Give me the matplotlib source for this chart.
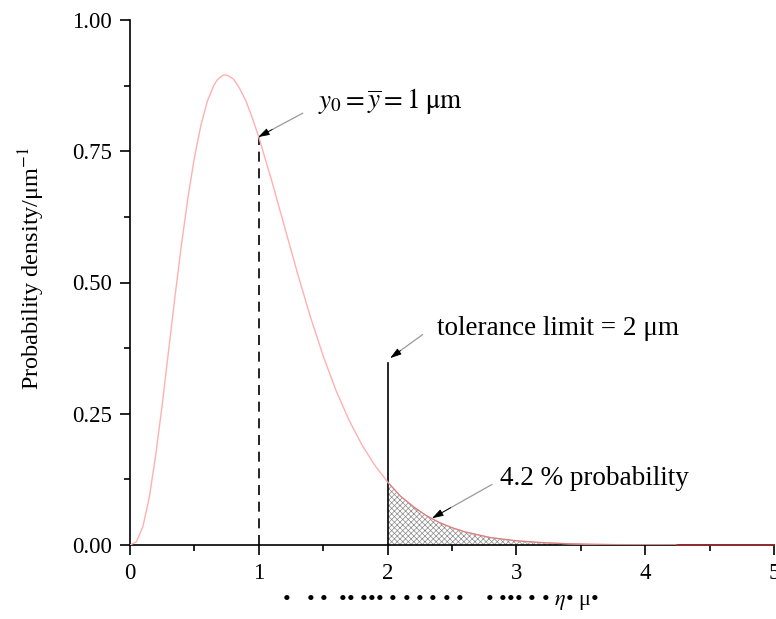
import matplotlib
matplotlib.use("Agg")
import matplotlib.pyplot as plt
import numpy as np

plt.rcParams['font.family'] = ['Liberation Serif', 'DejaVu Serif']
plt.rcParams['mathtext.fontset'] = 'stix'
plt.rcParams['hatch.linewidth'] = 0.5

# Curve values
x_vals = [0.0, 0.05, 0.1, 0.15, 0.2, 0.25, 0.3, 0.35, 0.4, 0.45, 0.5, 0.55, 0.6, 0.65,
          0.675, 0.7, 0.725, 0.75, 0.775, 0.8, 0.825, 0.85, 0.9, 0.95, 1.0, 1.1, 1.2,
          1.3, 1.4, 1.5, 1.6, 1.7, 1.8, 1.9, 2.0, 2.1, 2.2, 2.3, 2.4, 2.5, 2.6, 2.8,
          3.0, 3.2, 3.4, 3.6, 3.8, 4.0, 4.25]
y_vals = [0.000, 0.006, 0.035, 0.091, 0.172, 0.267, 0.371, 0.475, 0.573, 0.662, 0.738,
          0.799, 0.845, 0.875, 0.885, 0.891, 0.895, 0.895, 0.892, 0.888, 0.880, 0.870,
          0.846, 0.813, 0.777, 0.694, 0.606, 0.518, 0.435, 0.360, 0.294, 0.238, 0.191,
          0.152, 0.120, 0.093, 0.073, 0.056, 0.043, 0.033, 0.025, 0.014, 0.008, 0.0045,
          0.0024, 0.0013, 0.0007, 0.0004, 0.0002]

mean_value = 1.0
mean_density = 0.777
tolerance = 2.0
tolerance_line_top = 0.347
tail_end = 4.25

x_ticks = [0, 1, 2, 3, 4, 5]
x_ticklabels = ['0', '1', '2', '3', '4', '5']
y_ticks = [0.0, 0.25, 0.5, 0.75, 1.0]
y_ticklabels = ['0.00', '0.25', '0.50', '0.75', '1.00']

x = np.array(x_vals)
y = np.array(y_vals)

fig = plt.figure(figsize=(7.76, 6.19), dpi=100)
ax = fig.add_axes([130/776, 1-545/619, (774-130)/776, (545-20)/619])

# hatched tail
mask = x >= tolerance
ax.fill_between(x[mask], 0, y[mask], facecolor='white', edgecolor='#8a8a8a',
                hatch='xxxxxx', linewidth=0, zorder=1)

ax.plot(x, y, color='#ffb0b0', lw=1.0, zorder=3)
ax.plot(x[mask], y[mask], color='#d08080', lw=0.8, zorder=3)
ax.plot([tail_end, 5.0], [0, 0], color='#a03030', lw=1.2, zorder=4, clip_on=False)

ax.plot([mean_value, mean_value], [0, mean_density], color='black', lw=1.2,
        ls=(0, (6, 4)), zorder=2)
ax.plot([tolerance, tolerance], [0, tolerance_line_top], color='black', lw=1.2, zorder=2)

ax.set_xlim(0, 5)
ax.set_ylim(0, 1.0)
ax.set_xticks(x_ticks)
ax.set_xticklabels(x_ticklabels)
ax.set_yticks(y_ticks)
ax.set_yticklabels(y_ticklabels)
ax.set_xticks([0.5, 1.5, 2.5, 3.5, 4.5], minor=True)
ax.set_yticks([0.125, 0.375, 0.625, 0.875], minor=True)
ax.tick_params(which='major', direction='out', length=7, width=1.2, labelsize=16.5, pad=6)
ax.tick_params(which='minor', direction='out', length=4, width=1.2)
for s in ['top', 'right']:
    ax.spines[s].set_visible(False)
for s in ['left', 'bottom']:
    ax.spines[s].set_linewidth(1.2)

fig.text(32/776, 1-268/619, 'Probability density/μm$^{-1}$', fontsize=17.5,
         rotation=90, ha='center', va='center')

fig.text(0.567, 0.026, '•   • •  •• ••• • • • • • •    • ••• • • $\\eta$• μ•',
         ha='center', va='center', fontsize=16)

def arrow(text, xy_text, xy_start, xy_tip):
    ax.text(xy_text[0], xy_text[1], text, fontsize=19.5, ha='left', va='center')
    ax.annotate('', xy=xy_tip, xytext=xy_start,
                arrowprops=dict(arrowstyle='-', color='#9a9a9a', lw=0.9))
    dx = xy_start[0] - xy_tip[0]
    dy = xy_start[1] - xy_tip[1]
    ax.annotate('', xy=xy_tip, xytext=(xy_tip[0] + dx*0.3, xy_tip[1] + dy*0.3),
                arrowprops=dict(arrowstyle='-|>,head_length=0.7,head_width=0.22',
                                color='black', lw=0.6, shrinkA=0, shrinkB=0))

arrow(r'$y_0=\overline{y}=1\;\mathrm{\mu m}$', (1.46, 0.845), (1.36, 0.825), (0.995, 0.777))
arrow('tolerance limit = 2 μm', (2.38, 0.412), (2.29, 0.404), (2.02, 0.356))
arrow('4.2 % probability', (2.87, 0.126), (2.83, 0.118), (2.345, 0.051))

fig.savefig('out.png', dpi=100)
